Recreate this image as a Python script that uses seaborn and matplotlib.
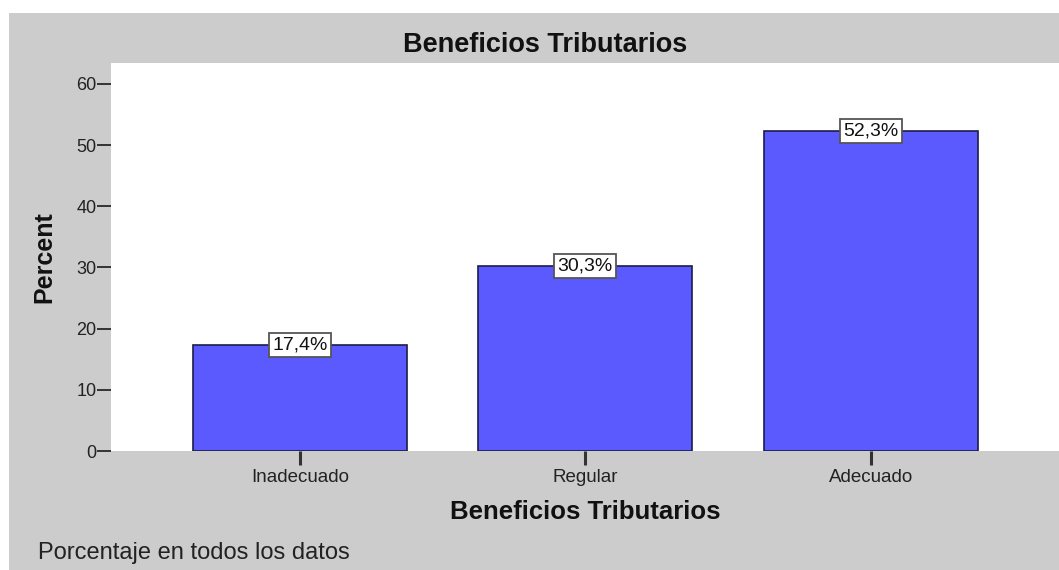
import matplotlib
matplotlib.use("Agg")
import matplotlib.pyplot as plt
from matplotlib.patches import Rectangle
import seaborn as sns
import pandas as pd

categories = ["Inadecuado", "Regular", "Adecuado"]
percents = [17.4, 30.3, 52.3]
value_labels = ["17,4%", "30,3%", "52,3%"]
y_ticks = [0, 10, 20, 30, 40, 50, 60]

sns.set_theme(style="white")
plt.rcParams['font.family'] = ['Liberation Sans', 'DejaVu Sans']

W, H = 1059, 570
fig = plt.figure(figsize=(W / 100, H / 100), dpi=100, facecolor="white")
bg = "#cccccc"
fig.patches.append(Rectangle((9 / W, 0), 1 - 9 / W, 1 - 13 / H, transform=fig.transFigure,
                             facecolor=bg, edgecolor="none", zorder=-10))

ax = fig.add_axes([111 / W, 1 - 451 / H, (1059 - 111) / W, (451 - 63) / H])
ax.set_facecolor("white")

df = pd.DataFrame({"cat": categories, "pct": percents})
sns.barplot(data=df, x="cat", y="pct", color="#5a5aff", saturation=1, width=0.75,
            edgecolor="#1c1c4a", linewidth=1.2, ax=ax)

ax.set_xlim(-0.662, 2.66)
ax.set_ylim(0, 63.4)
ax.set_yticks(y_ticks)
ax.set_yticklabels([str(t) for t in y_ticks], fontsize=13, color="#222222")
ax.tick_params(axis="y", direction="out", length=10, width=1.4, color="#333333", pad=0.5, left=True)
ax.tick_params(axis="x", direction="out", length=10, width=2.2, color="#333333", pad=3, bottom=True,
               labelsize=13.5, labelcolor="#222222")
for s in ax.spines.values():
    s.set_visible(False)

for i, (v, lab) in enumerate(zip(percents, value_labels)):
    ax.text(i, v, lab, ha="center", va="center", fontsize=14, color="#111111",
            bbox=dict(boxstyle="square,pad=0.18", facecolor="white", edgecolor="#555555", linewidth=1.3),
            zorder=5)

ax.set_xlabel("Beneficios Tributarios", fontsize=18.5, fontweight="bold", labelpad=10, color="#111111")
ax.set_ylabel("Percent", fontsize=18, fontweight="bold", labelpad=14, color="#111111")

fig.text(545 / W, 1 - 45 / H, "Beneficios Tributarios", ha="center", va="center",
         fontsize=19.5, fontweight="bold", color="#111111")
fig.text(38 / W, 1 - 553 / H, "Porcentaje en todos los datos", ha="left", va="center",
         fontsize=17, color="#222222")

fig.savefig("out.png", dpi=100, facecolor=fig.get_facecolor())
